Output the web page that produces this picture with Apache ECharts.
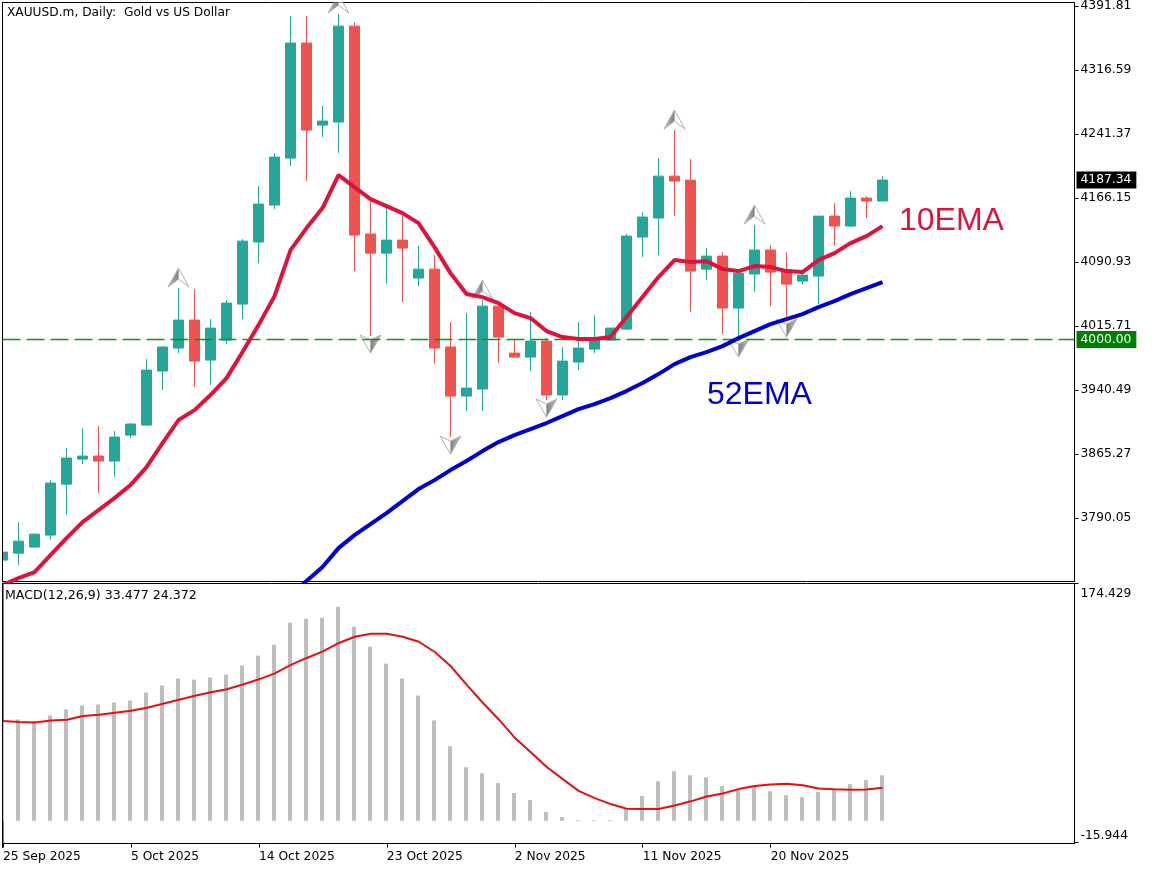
<!DOCTYPE html>
<html>
<head>
<meta charset="utf-8">
<style>
  html, body { margin: 0; padding: 0; background: #fff; }
  #chart { width: 1152px; height: 870px; }
</style>
<script src="https://cdn.jsdelivr.net/npm/echarts@6/dist/echarts.min.js"></script>
</head>
<body>
<div id="chart"></div>
<script>
const dates = [
  '25 Sep 2025','26 Sep 2025','28 Sep 2025','29 Sep 2025','30 Sep 2025','1 Oct 2025','2 Oct 2025','3 Oct 2025',
  '5 Oct 2025','6 Oct 2025','7 Oct 2025','8 Oct 2025','9 Oct 2025','10 Oct 2025','12 Oct 2025','13 Oct 2025',
  '14 Oct 2025','15 Oct 2025','16 Oct 2025','17 Oct 2025','19 Oct 2025','20 Oct 2025','21 Oct 2025','22 Oct 2025',
  '23 Oct 2025','24 Oct 2025','26 Oct 2025','27 Oct 2025','28 Oct 2025','29 Oct 2025','30 Oct 2025','31 Oct 2025',
  '2 Nov 2025','3 Nov 2025','4 Nov 2025','5 Nov 2025','6 Nov 2025','7 Nov 2025','9 Nov 2025','10 Nov 2025',
  '11 Nov 2025','12 Nov 2025','13 Nov 2025','14 Nov 2025','16 Nov 2025','17 Nov 2025','18 Nov 2025','19 Nov 2025',
  '20 Nov 2025','21 Nov 2025','23 Nov 2025','24 Nov 2025','25 Nov 2025','26 Nov 2025','27 Nov 2025','28 Nov 2025'
];
// empty days to the right of the last candle
const emptySlots = ['','','','','','','','','','','',''];

const opens = [3740.7,3748.9,3756,3770.1,3830,3859.4,3863,3857.1,3887.6,3899.4,3962.9,3989.9,4022.8,3975.8,3999.3,4041.6,4114.5,4158,4213.2,4348.4,4252,4255.5,4368.3,4123.9,4101.5,4116.8,4072.2,4082.7,3991.1,3933.5,3941.7,4039.2,3984,3979.3,3998.1,3934.7,3973.4,3988.7,3999.3,4012.2,4120.4,4142.7,4192,4187.3,4082.7,4098,4036.9,4076.9,4105.1,4081.6,4068.6,4074.5,4145,4133.3,4166.2,4162.7];
const closes = [3750.1,3763,3771.2,3831.2,3860.6,3863,3857.1,3885.3,3900.6,3964,3991.1,4022.8,3974.6,4013.4,4042.8,4115.6,4159.1,4214.4,4348.4,4246.1,4256.7,4368.3,4122.7,4101.5,4116.8,4107.4,4082.7,3989.9,3933.5,3942.9,4039.2,4002.8,3979.3,3998.1,3934.7,3974.6,3989.9,4000.5,4013.4,4121.5,4143.9,4192,4186.2,4080.4,4098,4036.9,4078,4105.1,4079.2,4065.1,4075.7,4145,4133.3,4166.2,4162.7,4187.34];
const lows = [3740.7,3734.8,3755.5,3764.2,3793.6,3853.6,3819.5,3838.3,3884.1,3898.2,3940.5,3984,3944.1,3946.4,3994.6,4024,4089.8,4153.3,4203.8,4186.2,4237.9,4219.1,4080.4,4004,4065.1,4044,4062.8,3971.1,3885.3,3915.8,3915.8,3972.3,3979.3,3962.9,3928.8,3928.8,3964,3984,3999,4011,4096.8,4099.2,4145,4032.2,4069.8,4006.3,3999.3,4055.7,4039.2,4022.8,4065.1,4041.6,4109.8,4132.1,4142.7,4162.7];
const highs = [3750.1,3785.3,3772,3834.7,3872.4,3895.9,3898.2,3892.3,3901.8,3976.9,3992.2,4060.4,4059.2,4024,4046.3,4118,4180.3,4219.1,4380.1,4380.1,4274.3,4382.4,4373,4167.4,4155.6,4146.2,4109.8,4099.2,4020.4,4031,4046.3,4044,3999.3,4032.2,4001.6,3991.1,4020.4,4028.7,4013.4,4123.9,4149.7,4213.2,4246.1,4212,4107.4,4102.7,4079.2,4134.5,4110.9,4102.7,4081.6,4145,4160.3,4174.4,4168.5,4192];

const ema10 = [3711.2,3719.6,3726.6,3746.6,3766.6,3785.4,3799.5,3813.6,3828.9,3850,3878.2,3905.3,3917,3934.7,3954.6,3985.2,4016.9,4051,4105.1,4130.9,4154.4,4193.2,4179.1,4165,4156.8,4148.5,4136.8,4108.6,4078,4053.4,4049.8,4042.8,4031,4025.2,4009.9,4002.8,4000.5,4000.5,4002.8,4026.3,4049.8,4073.3,4093.3,4091,4092.1,4082.7,4080.4,4086.3,4085.1,4080.4,4079.2,4093.3,4101.5,4113.3,4121.5,4133.3];
const ema52 = [null,null,null,null,null,null,null,null,null,null,null,null,null,null,null,null,null,null,3699.6,3716.2,3732.5,3754.8,3770,3783,3796,3810,3824.2,3834.7,3846.5,3857.1,3868.8,3879.4,3887.6,3894.7,3901.8,3910,3918.2,3924.1,3931.1,3939.4,3948.8,3959.3,3971.1,3979.3,3985.2,3992.2,4001.6,4009.9,4018.1,4024,4029.9,4038.1,4045.1,4053.4,4060.4,4067.5];

const macdBars = [74.5,74.5,73.3,77.5,81.9,84.8,85.5,87,88.4,94.3,99.4,104.6,103.8,105.3,107.5,114.1,121.4,129.5,145.6,148.5,149.2,157.3,142.6,128,115.5,104.6,92.1,73.8,54.8,39.4,35,27.7,20.4,15.2,6.4,2.8,0.6,0.6,0.6,8.6,18.2,29.1,36.5,33.5,32.1,25.5,22.6,24.7,21.8,18.9,17.4,21.1,23.3,26.9,29.9,33.477];
const macdSignal = [73.3,72.6,72.3,73.8,74.3,77,78,79.4,80.9,83.1,86,89,91.9,94.5,96.7,100.2,104,108.4,114.6,119.7,124.5,130.7,135.3,137.5,137.5,135.3,131.6,124.1,113.6,99.9,86.8,74.5,61.1,50.4,39.6,30.6,22,16.7,12.3,8.9,8.6,8.6,11.3,14.3,17.9,20.1,23.3,25.5,26.7,27.2,26.2,23.8,23.1,22.8,23,24.372];

// candles that carry a fractal arrow
const upArrows = [11,21,30,42,47];
const downArrows = [23,28,34,46,49];

const priceTicks = [4391.81,4316.59,4241.37,4166.15,4090.93,4015.71,3940.49,3865.27,3790.05];
const macdTicks = [-15.944,174.429];
const categories = dates.concat(emptySlots);
const labelEvery = (i) => i % 8 === 0 && i <= 48;

const LEVEL = 4000;
const LAST_PRICE = 4187.34;

const FONT = '"DejaVu Sans", sans-serif';
const EMA_FONT = '32px "Liberation Sans", Arial, sans-serif';
const MACD_MIN = -16.69;
const MACD_MAX = 174.43;
const candles = opens.map((o, i) => [o, closes[i], lows[i], highs[i]]);

const arrowData = upArrows.map((i) => [i, highs[i], 1]).concat(downArrows.map((i) => [i, lows[i], -1]));

function shade(from, to) {
  return { type: 'linear', x: 0, y: 0, x2: 1, y2: 0, colorStops: [{ offset: 0, color: from }, { offset: 1, color: to }] };
}

function renderArrow(params, api) {
  const p = api.coord([api.value(0), api.value(1)]);
  const up = api.value(2) === 1;
  const x = p[0], y = p[1];
  const apex = up ? [x, y - 20] : [x, y + 17];
  const notch = up ? [x, y - 9] : [x, y + 4];
  const left = [x - 10.5, y - 1];
  const right = [x + 10.5, y - 1];
  const flat = { fill: '#ffffff', stroke: '#b0b0b0', lineWidth: 1 };
  const leftSolid = { fill: shade('#c8c8c8', '#7c7c7c'), stroke: '#b0b0b0', lineWidth: 1 };
  const rightSolid = { fill: shade('#7c7c7c', '#c8c8c8'), stroke: '#b0b0b0', lineWidth: 1 };
  return {
    type: 'group',
    children: [
      { type: 'polygon', shape: { points: [apex, left, notch] }, style: up ? leftSolid : flat },
      { type: 'polygon', shape: { points: [apex, right, notch] }, style: up ? flat : rightSolid }
    ]
  };
}

const chart = echarts.init(document.getElementById('chart'), null, { renderer: 'canvas' });

const badge = (text, bg) => ({
  show: true, position: 'end', distance: 2, formatter: text, color: '#fff', backgroundColor: bg,
  fontFamily: FONT, fontSize: 12.3, lineHeight: 13, padding: [2, 5, 2, 4]
});

chart.setOption({
  animation: false,
  backgroundColor: '#ffffff',
  grid: [
    { left: 2.5, top: 2.5, width: 1072, height: 579, show: true, borderColor: '#000', borderWidth: 1, backgroundColor: 'transparent' },
    { left: 2.5, top: 583.5, width: 1072, height: 260, show: true, borderColor: '#000', borderWidth: 1, backgroundColor: 'transparent' },
    // histogram sits half a pixel left so its 4px columns stay crisp
    { left: 2, top: 583.5, width: 1072, height: 260 }
  ],
  xAxis: [
    { type: 'category', gridIndex: 0, data: categories, boundaryGap: false, show: false },
    {
      type: 'category',
      gridIndex: 1,
      data: categories,
      boundaryGap: false,
      axisLine: { onZero: false, lineStyle: { color: '#000' } },
      axisTick: { alignWithLabel: true, interval: labelEvery, length: 4, lineStyle: { color: '#000' } },
      axisLabel: { interval: labelEvery, align: 'left', color: '#000', fontFamily: FONT, fontSize: 12.3, margin: 7 }
    },
    { type: 'category', gridIndex: 2, data: categories, boundaryGap: false, show: false }
  ],
  yAxis: [
    {
      type: 'value',
      gridIndex: 0,
      position: 'right',
      min: 3715.55,
      max: 4396.08,
      splitLine: { show: false },
      axisLine: { show: true, lineStyle: { color: '#000' } },
      axisTick: { show: true, length: 4, customValues: priceTicks, lineStyle: { color: '#000' } },
      axisLabel: { customValues: priceTicks, color: '#000', fontFamily: FONT, fontSize: 12.3, margin: 6, padding: [3, 0, 0, 0], formatter: (v) => v.toFixed(2) }
    },
    {
      type: 'value',
      gridIndex: 1,
      position: 'right',
      min: MACD_MIN,
      max: MACD_MAX,
      splitLine: { show: false },
      axisLine: { show: true, lineStyle: { color: '#000' } },
      axisTick: { show: true, length: 4, customValues: macdTicks, lineStyle: { color: '#000' } },
      axisLabel: {
        customValues: macdTicks,
        color: '#000',
        fontFamily: FONT,
        fontSize: 12.3,
        margin: 6,
        padding: [4, 0, 1, 0],
        verticalAlignMinLabel: 'bottom',
        verticalAlignMaxLabel: 'top',
        formatter: (v) => v.toFixed(3)
      }
    },
    { type: 'value', gridIndex: 2, min: MACD_MIN, max: MACD_MAX, show: false, splitLine: { show: false } }
  ],
  series: [
    {
      type: 'candlestick',
      name: 'XAUUSD.m',
      xAxisIndex: 0,
      yAxisIndex: 0,
      data: candles,
      barWidth: 11,
      z: 2,
      itemStyle: { color: '#26A69A', color0: '#EF5350', borderColor: '#26A69A', borderColor0: '#EF5350', borderWidth: 1 }
    },
    {
      type: 'line',
      name: 'level',
      xAxisIndex: 0,
      yAxisIndex: 0,
      data: categories.map(() => LEVEL),
      showSymbol: false,
      z: 3,
      lineStyle: { color: '#00a000', width: 1.4, type: [18, 6] }
    },
    { type: 'custom', name: 'fractals', xAxisIndex: 0, yAxisIndex: 0, data: arrowData, renderItem: renderArrow, clip: true, z: 3 },
    {
      type: 'line',
      name: '10EMA',
      xAxisIndex: 0,
      yAxisIndex: 0,
      data: ema10,
      showSymbol: false,
      z: 4,
      lineStyle: { color: '#DC143C', width: 4 },
      markLine: {
        silent: true,
        symbol: 'none',
        z: 3,
        lineStyle: { color: 'rgba(0,0,0,0)', width: 1 },
        data: [
          { yAxis: LEVEL, label: badge('4000.00', '#008000') },
          { yAxis: LAST_PRICE, label: badge('4187.34', '#000') }
        ]
      }
    },
    { type: 'line', name: '52EMA', xAxisIndex: 0, yAxisIndex: 0, data: ema52, showSymbol: false, z: 4, lineStyle: { color: '#0000CD', width: 4 } },
    { type: 'bar', name: 'MACD', xAxisIndex: 2, yAxisIndex: 2, data: macdBars, barWidth: 4, itemStyle: { color: '#BEBEBE' }, z: 2 },
    { type: 'line', name: 'Signal', xAxisIndex: 1, yAxisIndex: 1, data: macdSignal, showSymbol: false, z: 3, lineStyle: { color: '#E01018', width: 2 } }
  ],
  graphic: [
    // the first candle and bar are cut off by the left edge of the panes
    { type: 'rect', z: 15, shape: { x: 0, y: 0, width: 2, height: 870 }, style: { fill: '#fff' } },
    { type: 'line', z: 16, shape: { x1: 2.5, y1: 2, x2: 2.5, y2: 582 }, style: { stroke: '#000', lineWidth: 1 } },
    { type: 'line', z: 16, shape: { x1: 2.5, y1: 583, x2: 2.5, y2: 848 }, style: { stroke: '#000', lineWidth: 1 } },
    { type: 'text', z: 20, style: { x: 7, y: 13, text: 'XAUUSD.m, Daily:  Gold vs US Dollar', font: '12.2px ' + FONT, fill: '#000', textVerticalAlign: 'middle' } },
    { type: 'text', z: 20, style: { x: 5, y: 596, text: 'MACD(12,26,9) 33.477 24.372', font: '12.6px ' + FONT, fill: '#000', textVerticalAlign: 'middle' } },
    { type: 'text', z: 20, style: { x: 899, y: 221, text: '10EMA', font: EMA_FONT, fill: '#DC143C', textVerticalAlign: 'middle' } },
    { type: 'text', z: 20, style: { x: 707, y: 395, text: '52EMA', font: EMA_FONT, fill: '#0000CD', textVerticalAlign: 'middle' } }
  ]
});
</script>
</body>
</html>
